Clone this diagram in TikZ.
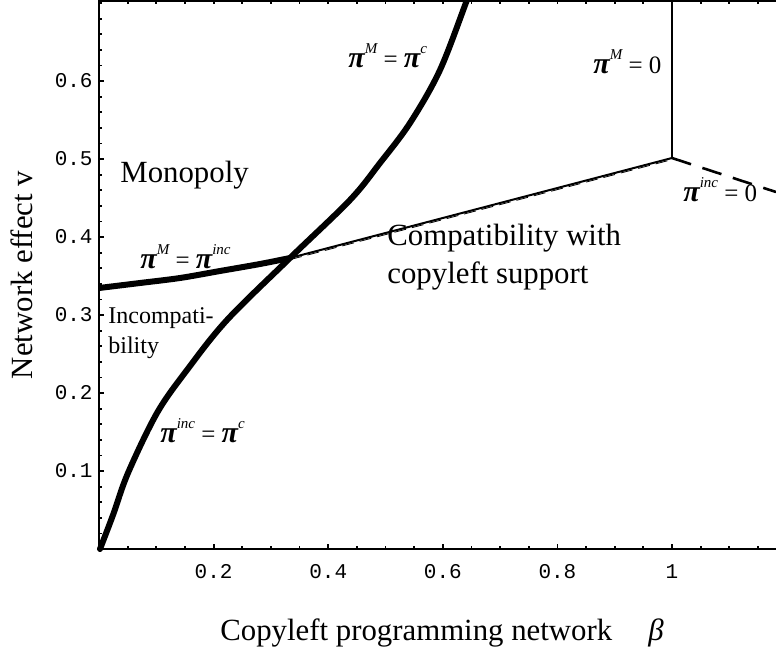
\documentclass[tikz,border=0pt]{standalone}
\usepackage{fontspec}
\setmainfont{Liberation Serif}
\newfontfamily\tickfont{Liberation Mono}
\newcommand{\eqp}[1]{{\fontsize{15}{15}\selectfont\bfseries\itshape π}\raisebox{1.2ex}{\fontsize{7.5}{8}\selectfont\itshape #1}}

\begin{document}
\begin{tikzpicture}[x=0.5pt,y=-0.5pt,
    axisline/.style={line width=0.9pt},
    boundary/.style={line width=3pt,line cap=round,line join=round},
    thinline/.style={line width=1pt},
    ticklbl/.style={font=\fontsize{10.5}{12}\tickfont,inner sep=0pt},
    txtlbl/.style={font=\fontsize{15.4}{19}\selectfont,inner sep=0pt,anchor=base west,align=left},
    eqlbl/.style={font=\fontsize{12.5}{14}\selectfont,inner sep=0pt,anchor=base west}]
    \useasboundingbox (0,0) rectangle (776,653);
    \draw[axisline] (99,0)--(99,549)--(776,549);
    \draw[axisline] (99,1)--(776,1);
    \foreach \i in {1,...,23}{
      \draw[axisline] (99+28.65*\i,549)--++(0,-3);
      \draw[axisline] (99+28.65*\i,1)--++(0,3);
    }
    \foreach \i/\t in {4/0.2,8/0.4,12/0.6,16/0.8,20/1}{
      \draw[axisline] (99+28.65*\i,549)--++(0,-5);
      \node[ticklbl] (bt\i) at (99+28.65*\i,572) {\t};
    }
    \foreach \j in {1,...,35}
      \draw[axisline] (99,549-15.6*\j)--++(3,0);
    \foreach \j/\t in {5/0.1,10/0.2,15/0.3,20/0.4,25/0.5,30/0.6}{
      \draw[axisline] (99,549-15.6*\j)--++(5,0);
      \node[ticklbl,anchor=east] (vt\j) at (93,549-15.6*\j) {\t};
    }
    \coordinate (cross) at (290,258);
    \coordinate (corner) at (672,158);
    \begin{scope}
      \clip (90,1) rectangle (776,560);
      \draw[boundary] plot[smooth,tension=0.55] coordinates {(100,549) (113,515) (128,473) (157,413) (187,370) (227,320) (cross) (350,200) (380,163) (410,123) (440,70) (467,0) (470,-6)};
      \draw[boundary,line cap=butt] plot[smooth] coordinates {(99,288) (140,283) (180,278) (220,271) (260,264) (cross)};
      \draw[thinline] (cross)--(corner);
      \draw[line width=0.4pt,dash pattern=on 6pt off 3pt] ([yshift=-0.8pt]cross)--([yshift=-0.8pt]corner);
      \draw[line width=1.2pt] (corner)--(672,0);
      \draw[line width=1.3pt,dash pattern=on 10pt off 6pt] (corner)--(776,192);
    \end{scope}
    \node[txtlbl] (monopoly) at (120,182) {Monopoly};
    \node[txtlbl] (compat) at (387,283) {Compatibility with\\copyleft support};
    \node[txtlbl,font=\fontsize{12}{15}\selectfont] (incompat) at (108,353) {Incompati-\\bility};
    \node[eqlbl] (mc) at (348,67) {\eqp{M} = \eqp{c}};
    \node[eqlbl] (mzero) at (593,73) {\eqp{M} = 0};
    \node[eqlbl] (inczero) at (683,201) {\eqp{inc} = 0};
    \node[eqlbl] (minc) at (140,268) {\eqp{M} = \eqp{inc}};
    \node[eqlbl] (incc) at (160,442) {\eqp{inc} = \eqp{c}};
    \node[font=\fontsize{15.4}{18}\selectfont,rotate=90,inner sep=0pt] (vlabel) at (22,275) {Network effect v};
    \node[txtlbl] (blabel) at (220,640) {Copyleft programming network};
    \node[txtlbl] (beta) at (648,640) {\textit{β}};
\end{tikzpicture}
\end{document}
